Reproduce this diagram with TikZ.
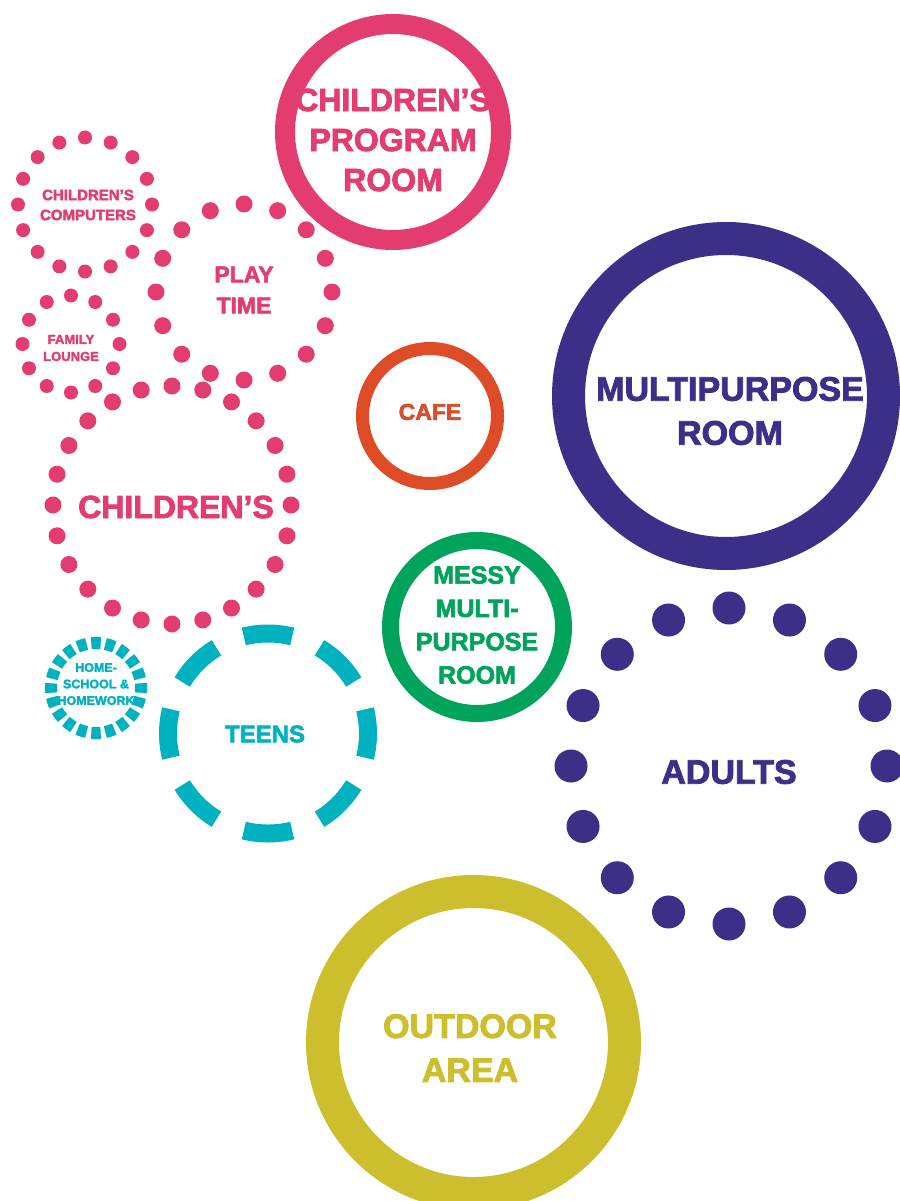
\documentclass[tikz,border=0pt]{standalone}
\usepackage{fontspec}
\newfontfamily\hv[FakeBold=2.5]{Liberation Sans Bold}
\usetikzlibrary{calc}
\definecolor{pinkc}{RGB}{227,60,110}
\definecolor{purpc}{RGB}{59,47,135}
\definecolor{orangec}{RGB}{221,76,38}
\definecolor{greenc}{RGB}{0,163,92}
\definecolor{cyanc}{RGB}{0,178,192}
\definecolor{olivec}{RGB}{205,190,45}
\newcommand{\fs}[2]{\fontsize{#1}{#2}\selectfont}
\tikzset{
  ring/.style={draw=#1, circle, inner sep=0pt, outer sep=0pt},
  lbl/.style={text=#1, align=center, inner sep=0pt, outer sep=0pt},
}
\begin{document}
\begin{tikzpicture}[x=1pt,y=-1pt]
\fill[white] (0,0) rectangle (899,1201);
\useasboundingbox (0,0) rectangle (899,1201);

% centres
\coordinate (chC) at (172,505);
\coordinate (plC) at (244,292);
\coordinate (coC) at (85,204.5);
\coordinate (faC) at (71,344);
\coordinate (adC) at (729,766);
\coordinate (teC) at (268,733.5);
\coordinate (hoC) at (96,688);

% dotted circles (pink)
\foreach \k in {0,...,15}
  \fill[pinkc] (coC) ++(90+22.5*\k:67) circle[radius=7];
\foreach \k in {0,...,11}
  \fill[pinkc] (faC) ++(90+30*\k:48.5) circle[radius=7];
\foreach \k in {0,...,15}
  \fill[pinkc] (plC) ++(90+22.5*\k:88) circle[radius=8.5];
\foreach \k in {0,...,23}
  \fill[pinkc] (chC) ++(90+15*\k:119) circle[radius=8.5];

% adults dotted (purple)
\foreach \k in {0,...,15}
  \fill[purpc] (adC) ++(90+22.5*\k:158) circle[radius=16.5];

% teens dashed
\foreach \k in {0,...,7}
  \draw[cyanc, line width=18pt] (teC) ++(90+45*\k-14:100)
    arc[start angle=90+45*\k-14, end angle=90+45*\k+14, radius=100];
% home-school dashed
\foreach \k in {0,...,19}
  \draw[cyanc, line width=12pt] (hoC) ++(90+18*\k-6:45)
    arc[start angle=90+18*\k-6, end angle=90+18*\k+6, radius=45];

% solid rings
\node[ring=pinkc, line width=20pt, minimum size=216pt] (cprR) at (393,132) {};
\node[ring=purpc, line width=33pt, minimum size=315pt] (mpR) at (726,396) {};
\node[ring=orangec, line width=13pt, minimum size=135pt] (caR) at (430,416) {};
\node[ring=greenc, line width=17pt, minimum size=173pt] (meR) at (477,627) {};
\node[ring=olivec, line width=33pt, minimum size=302pt] (ouR) at (473.5,1042.5) {};

% labels
\node[lbl=pinkc, font=\hv\fs{32}{40}] (cpr) at (393,140) {CHILDREN’S\\PROGRAM\\ROOM};
\node[lbl=purpc, font=\hv\fs{34}{44}] (mp) at (730,411) {MULTIPURPOSE\\ROOM};
\node[lbl=orangec, font=\hv\fs{23}{28}] (ca) at (430,412) {CAFE};
\node[lbl=greenc, font=\hv\fs{25}{33.3}] (me) at (477,625) {MESSY\\MULTI-\\PURPOSE\\ROOM};
\node[lbl=purpc, font=\hv\fs{34}{40}] (ad) at (729,772) {ADULTS};
\node[lbl=olivec, font=\hv\fs{34}{44}] (ou) at (470,1048) {OUTDOOR\\AREA};
\node[lbl=cyanc, font=\hv\fs{24}{30}] (te) at (265,734) {TEENS};
\node[lbl=cyanc, font=\hv\fs{12.5}{16.5}] (ho) at (96,684) {HOME-\\SCHOOL \&\\HOMEWORK};
\node[lbl=pinkc, font=\hv\fs{32}{40}] (ch) at (176,507) {CHILDREN’S};
\node[lbl=pinkc, font=\hv\fs{23}{31}] (pl) at (244,290) {PLAY\\TIME};
\node[lbl=pinkc, font=\hv\fs{15}{20}] (co) at (88,205) {CHILDREN’S\\COMPUTERS};
\node[lbl=pinkc, font=\hv\fs{13}{17}] (fa) at (71,348) {FAMILY\\LOUNGE};
\end{tikzpicture}
\end{document}
